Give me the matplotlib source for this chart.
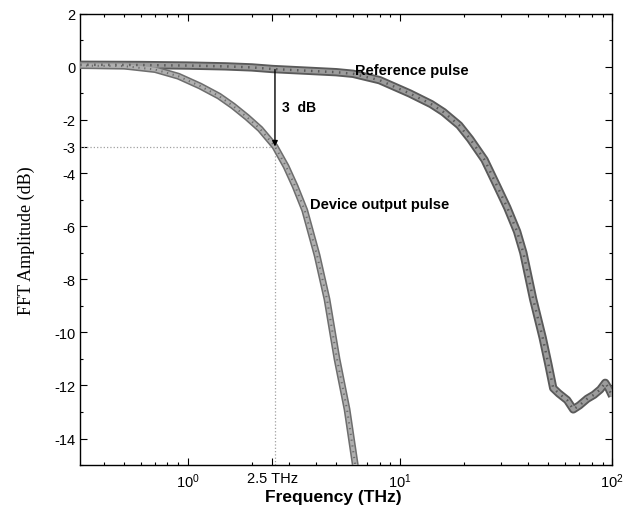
#!/usr/bin/env python3

import matplotlib.pyplot as plt
import numpy as np

# readings (THz, dB)
ref_freq = [0.31, 0.6, 1.0, 1.5, 2.0, 2.5, 3.76, 5.0, 6.0, 8.0, 11.1, 14.0, 16.0,
            19.0, 21.4, 25.0, 28.7, 32.0, 35.6, 38.1, 42.4, 47.0, 50.0, 52.7, 56.0,
            61.3, 65.5, 70.0, 76.2, 82.0, 87.8, 92.7, 96.0, 100.0]
ref_amp = [0.08, 0.07, 0.05, 0.02, -0.02, -0.08, -0.15, -0.2, -0.26, -0.5, -1.0,
           -1.4, -1.7, -2.2, -2.72, -3.5, -4.5, -5.3, -6.2, -7.0, -8.75, -10.2,
           -11.2, -12.1, -12.3, -12.55, -12.9, -12.75, -12.5, -12.35, -12.15,
           -11.9, -12.1, -12.4]

dev_freq = [0.31, 0.5, 0.7, 0.9, 1.14, 1.4, 1.63, 1.9, 2.19, 2.57, 2.9, 3.2, 3.55,
            4.06, 4.52, 5.04, 5.62, 6.2]
dev_amp = [0.05, 0.03, -0.1, -0.35, -0.72, -1.1, -1.47, -1.9, -2.34, -3.0, -3.75,
           -4.5, -5.4, -7.1, -8.75, -11.0, -12.9, -15.2]

f3db = 2.57
ytick_vals = [2, 0, -2, -3, -4, -6, -8, -10, -12, -14]
xtick_vals = [1, 2.5, 10, 100]
xtick_text = [r'$\mathregular{10^0}$', '2.5 THz', r'$\mathregular{10^1}$',
              r'$\mathregular{10^2}$']

plt.rcParams['font.family'] = ['Liberation Sans', 'DejaVu Sans']
plt.rcParams['axes.unicode_minus'] = False

fig = plt.figure(figsize=(6.26, 5.10), dpi=100)
ax = fig.add_axes([0.128, 0.086, 0.85, 0.885])

def band(x, y, lw, dark, light):
    # dark rim with a lighter speckled core, like the scanned trace
    ax.plot(x, y, color=dark, lw=lw, solid_capstyle='butt', zorder=3)
    ax.plot(x, y, color=light, lw=lw * 0.55, solid_capstyle='butt', zorder=4)
    ax.plot(x, y, color=dark, lw=lw * 0.3, ls=(0, (0.6, 2.2)), zorder=5)

band(ref_freq, ref_amp, 6.0, '#5a5a5a', '#9c9c9c')
band(dev_freq, dev_amp, 5.0, '#6e6e6e', '#b0b0b0')

# 3 dB guides
ax.plot([0.31, f3db], [-3, -3], color='#a0a0a0', lw=0.9, ls=':', zorder=2)
ax.plot([f3db, f3db], [-15, -3], color='#a0a0a0', lw=0.9, ls=':', zorder=2)
ax.annotate('', xy=(f3db, -3.0), xytext=(f3db, -0.1),
            arrowprops=dict(arrowstyle='-|>', color='black', lw=1.0,
                            mutation_scale=8, shrinkA=0, shrinkB=0), zorder=6)

ax.text(2.78, -1.5, '3  dB', fontsize=10, fontweight='bold', va='center')
ax.text(6.13, -0.12, 'Reference pulse', fontsize=10.5, fontweight='bold',
        va='center', zorder=7)
ax.text(3.76, -5.17, 'Device output pulse', fontsize=10.5, fontweight='bold',
        va='center')

ax.set_xscale('log')
ax.set_xlim(0.31, 100)
ax.set_ylim(-15, 2)
ax.set_yticks(ytick_vals)
ax.set_yticklabels([str(v) for v in ytick_vals])
ax.set_yticks(np.arange(-15, 2), minor=True)
ax.set_xticks(xtick_vals)
ax.set_xticklabels(xtick_text)
ax.tick_params(which='both', direction='in', top=True, right=True,
               labelsize=10.5, width=0.8)
ax.tick_params(which='major', length=5)
ax.tick_params(which='minor', length=2.5)
ax.tick_params(axis='x', pad=4.5)
for s in ax.spines.values():
    s.set_linewidth(1.0)

ax.set_ylabel('FFT Amplitude (dB)', family='Liberation Serif', fontsize=13)
ax.yaxis.set_label_coords(-0.085, 0.5)
ax.set_xlabel('Frequency (THz)', fontsize=12.5, fontweight='bold')
ax.xaxis.set_label_coords(0.476, -0.052)

fig.savefig('out.png', dpi=100)
